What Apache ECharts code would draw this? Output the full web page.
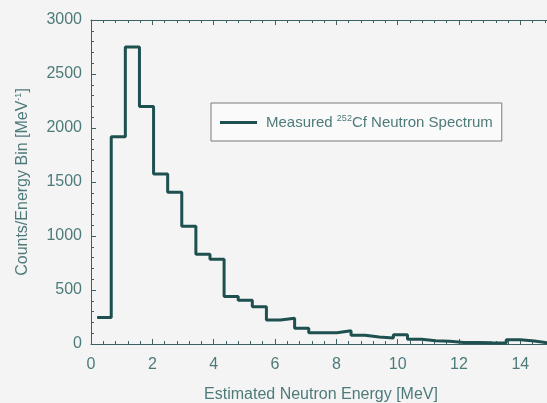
<!DOCTYPE html>
<html>
<head>
<meta charset="utf-8">
<script src="https://cdn.jsdelivr.net/npm/echarts@6/dist/echarts.min.js"></script>
<style>
html,body{margin:0;padding:0;background:#f4f4f4;}
#c{width:547px;height:403px;}
</style>
</head>
<body>
<div id="c"></div>
<script>
// Bin edges (MeV) and counts per bin
var binEdges = [0.2, 0.66, 1.12, 1.58, 2.04, 2.5, 2.96, 3.42, 3.88, 4.34, 4.8, 5.26, 5.72, 6.18, 6.64, 7.1, 7.56, 8.02, 8.48, 8.94, 9.4, 9.86, 10.32, 10.78, 11.24, 11.7, 12.16, 12.62, 13.08, 13.54, 14.0, 14.46, 14.92];
var binCounts = [245, 1920, 2750, 2200, 1575, 1405, 1090, 830, 785, 440, 405, 345, 222, 238, 145, 105, 105, 122, 82, 65, 55, 85, 45, 30, 25, 15, 15, 12, 10, 40, 28, 10];
var xTicks = [0, 2, 4, 6, 8, 10, 12, 14];
var yTicks = [0, 500, 1000, 1500, 2000, 2500, 3000];

var stepData = [];
for (var i = 0; i < binCounts.length; i++) stepData.push([binEdges[i], binCounts[i]]);
stepData.push([binEdges[binCounts.length], binCounts[binCounts.length - 1]]);

var textColor = '#4e7a7a';
var axisColor = '#3d6060';
var lineColor = '#1e5050';
var font = 'Liberation Sans, Arial, sans-serif';

var chart = echarts.init(document.getElementById('c'), null, {renderer: 'canvas'});
var axisCommon = {
  axisLine: {show: true, lineStyle: {color: axisColor, width: 1}},
  axisTick: {show: true, inside: true, length: 5, lineStyle: {color: axisColor}},
  minorTick: {show: true, splitNumber: 5, length: 3, lineStyle: {color: axisColor}},
  splitLine: {show: false}
};
chart.setOption({
  backgroundColor: '#f4f4f4',
  animation: false,
  grid: {left: 91, top: 20, width: 460, height: 324, containLabel: false, outerBoundsMode: 'none'},
  legend: {
    left: 211, top: 103,
    padding: [11, 9, 11, 9],
    itemWidth: 37, itemHeight: 3, itemGap: 0,
    icon: 'rect',
    borderColor: '#7a7a7a', borderWidth: 1,
    backgroundColor: '#fafafa',
    formatter: function () { return 'Measured {s|252}Cf Neutron Spectrum'; },
    textStyle: {
      color: textColor, fontSize: 15, fontFamily: font, padding: [0, 0, 0, 4],
      rich: {s: {fontSize: 9, fontFamily: font, color: textColor, padding: [0, 0, 8, 0]}}
    },
    data: ['Measured Cf Neutron Spectrum']
  },
  xAxis: [
    Object.assign({}, axisCommon, {
      type: 'value', min: 0, max: 15, interval: 2, position: 'bottom',
      axisLabel: {color: textColor, fontSize: 16, fontFamily: font, margin: 13, showMaxLabel: false,
        formatter: function (v) { return xTicks.indexOf(v) >= 0 ? String(v) : ''; }},
      name: 'Estimated Neutron Energy [MeV]', nameLocation: 'middle', nameGap: 43,
      nameTextStyle: {color: textColor, fontSize: 16, fontFamily: font}
    }),
    Object.assign({}, axisCommon, {
      type: 'value', min: 0, max: 15, interval: 2, position: 'top',
      axisLabel: {show: false}
    })
  ],
  yAxis: [
    Object.assign({}, axisCommon, {
      type: 'value', min: 0, max: 3000, interval: 500,
      axisLabel: {color: textColor, fontSize: 16, fontFamily: font, margin: 9,
        formatter: function (v) { return yTicks.indexOf(v) >= 0 ? String(v) : ''; }},
      name: 'Counts/Energy Bin [MeV{s|-1}]', nameLocation: 'middle', nameGap: 60,
      nameTextStyle: {color: textColor, fontSize: 16, fontFamily: font,
        rich: {s: {fontSize: 9, fontFamily: font, color: textColor, padding: [0, 0, 8, 0]}}}
    })
  ],
  series: [{
    name: 'Measured Cf Neutron Spectrum',
    type: 'line', step: 'end', symbol: 'none',
    data: stepData,
    lineStyle: {color: lineColor, width: 3},
    itemStyle: {color: lineColor}
  }]
});
</script>
</body>
</html>
